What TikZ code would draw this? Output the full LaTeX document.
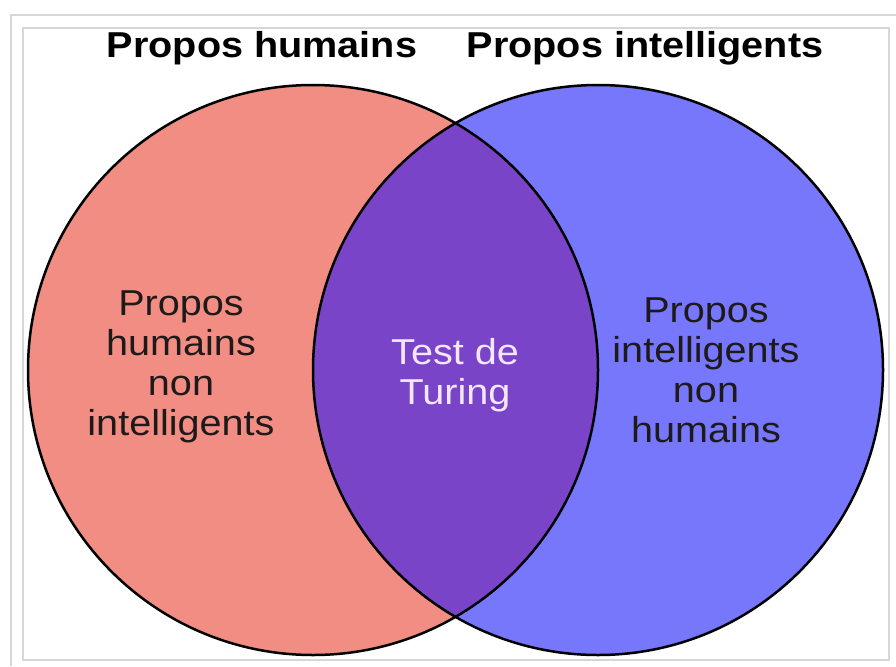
\documentclass[tikz,border=0pt]{standalone}
\usepackage{fontspec}
\setmainfont[FakeStretch=1.1]{Liberation Sans}
\definecolor{framec}{HTML}{D6D6D6}
\definecolor{redc}{HTML}{F28D83}
\definecolor{bluec}{HTML}{7777FB}
\definecolor{purplec}{HTML}{7A44C8}
\definecolor{inkc}{HTML}{1E1A1A}
\definecolor{lightc}{HTML}{F3E6FF}
\tikzset{
  titlelbl/.style={font=\fontsize{36}{38}\selectfont\bfseries, text=black, inner sep=0pt, anchor=base},
  bodylbl/.style={font=\fontsize{36}{40}\selectfont, text=inkc, inner sep=0pt, align=center},
  ring/.style={draw=black, line width=2.5pt},
}
\begin{document}
\begin{tikzpicture}[x=1pt,y=-1pt]
\useasboundingbox (0,0) rectangle (896,666);
\fill[white] (0,0) rectangle (896,666);
% frame
\coordinate (f1) at (11,666);
\coordinate (f2) at (11,15);
\coordinate (f3) at (896,15);
\draw[framec, line width=1.5pt] (f1) -- (f2) -- (f3);
\draw[framec, line width=1.5pt] (23,28) rectangle (889,660);
% circles
\coordinate (cl) at (313,370);
\coordinate (cr) at (598,370);
\fill[redc] (cl) circle[radius=285];
\fill[bluec] (cr) circle[radius=285];
\begin{scope}
  \clip (cl) circle[radius=285];
  \fill[purplec] (cr) circle[radius=285];
\end{scope}
\draw[ring] (cl) circle[radius=285];
\draw[ring] (cr) circle[radius=285];
% titles
\node[titlelbl] (th) at (262,58) {Propos humains};
\node[titlelbl] (ti) at (645,58) {Propos intelligents};
% labels
\node[bodylbl] (lh) at (181,367) {Propos\\humains\\non\\intelligents};
\node[bodylbl, text=lightc] (lt) at (455,375) {Test de\\Turing};
\node[bodylbl] (li) at (706,370) {Propos\\intelligents\\non\\humains};
\end{tikzpicture}
\end{document}
